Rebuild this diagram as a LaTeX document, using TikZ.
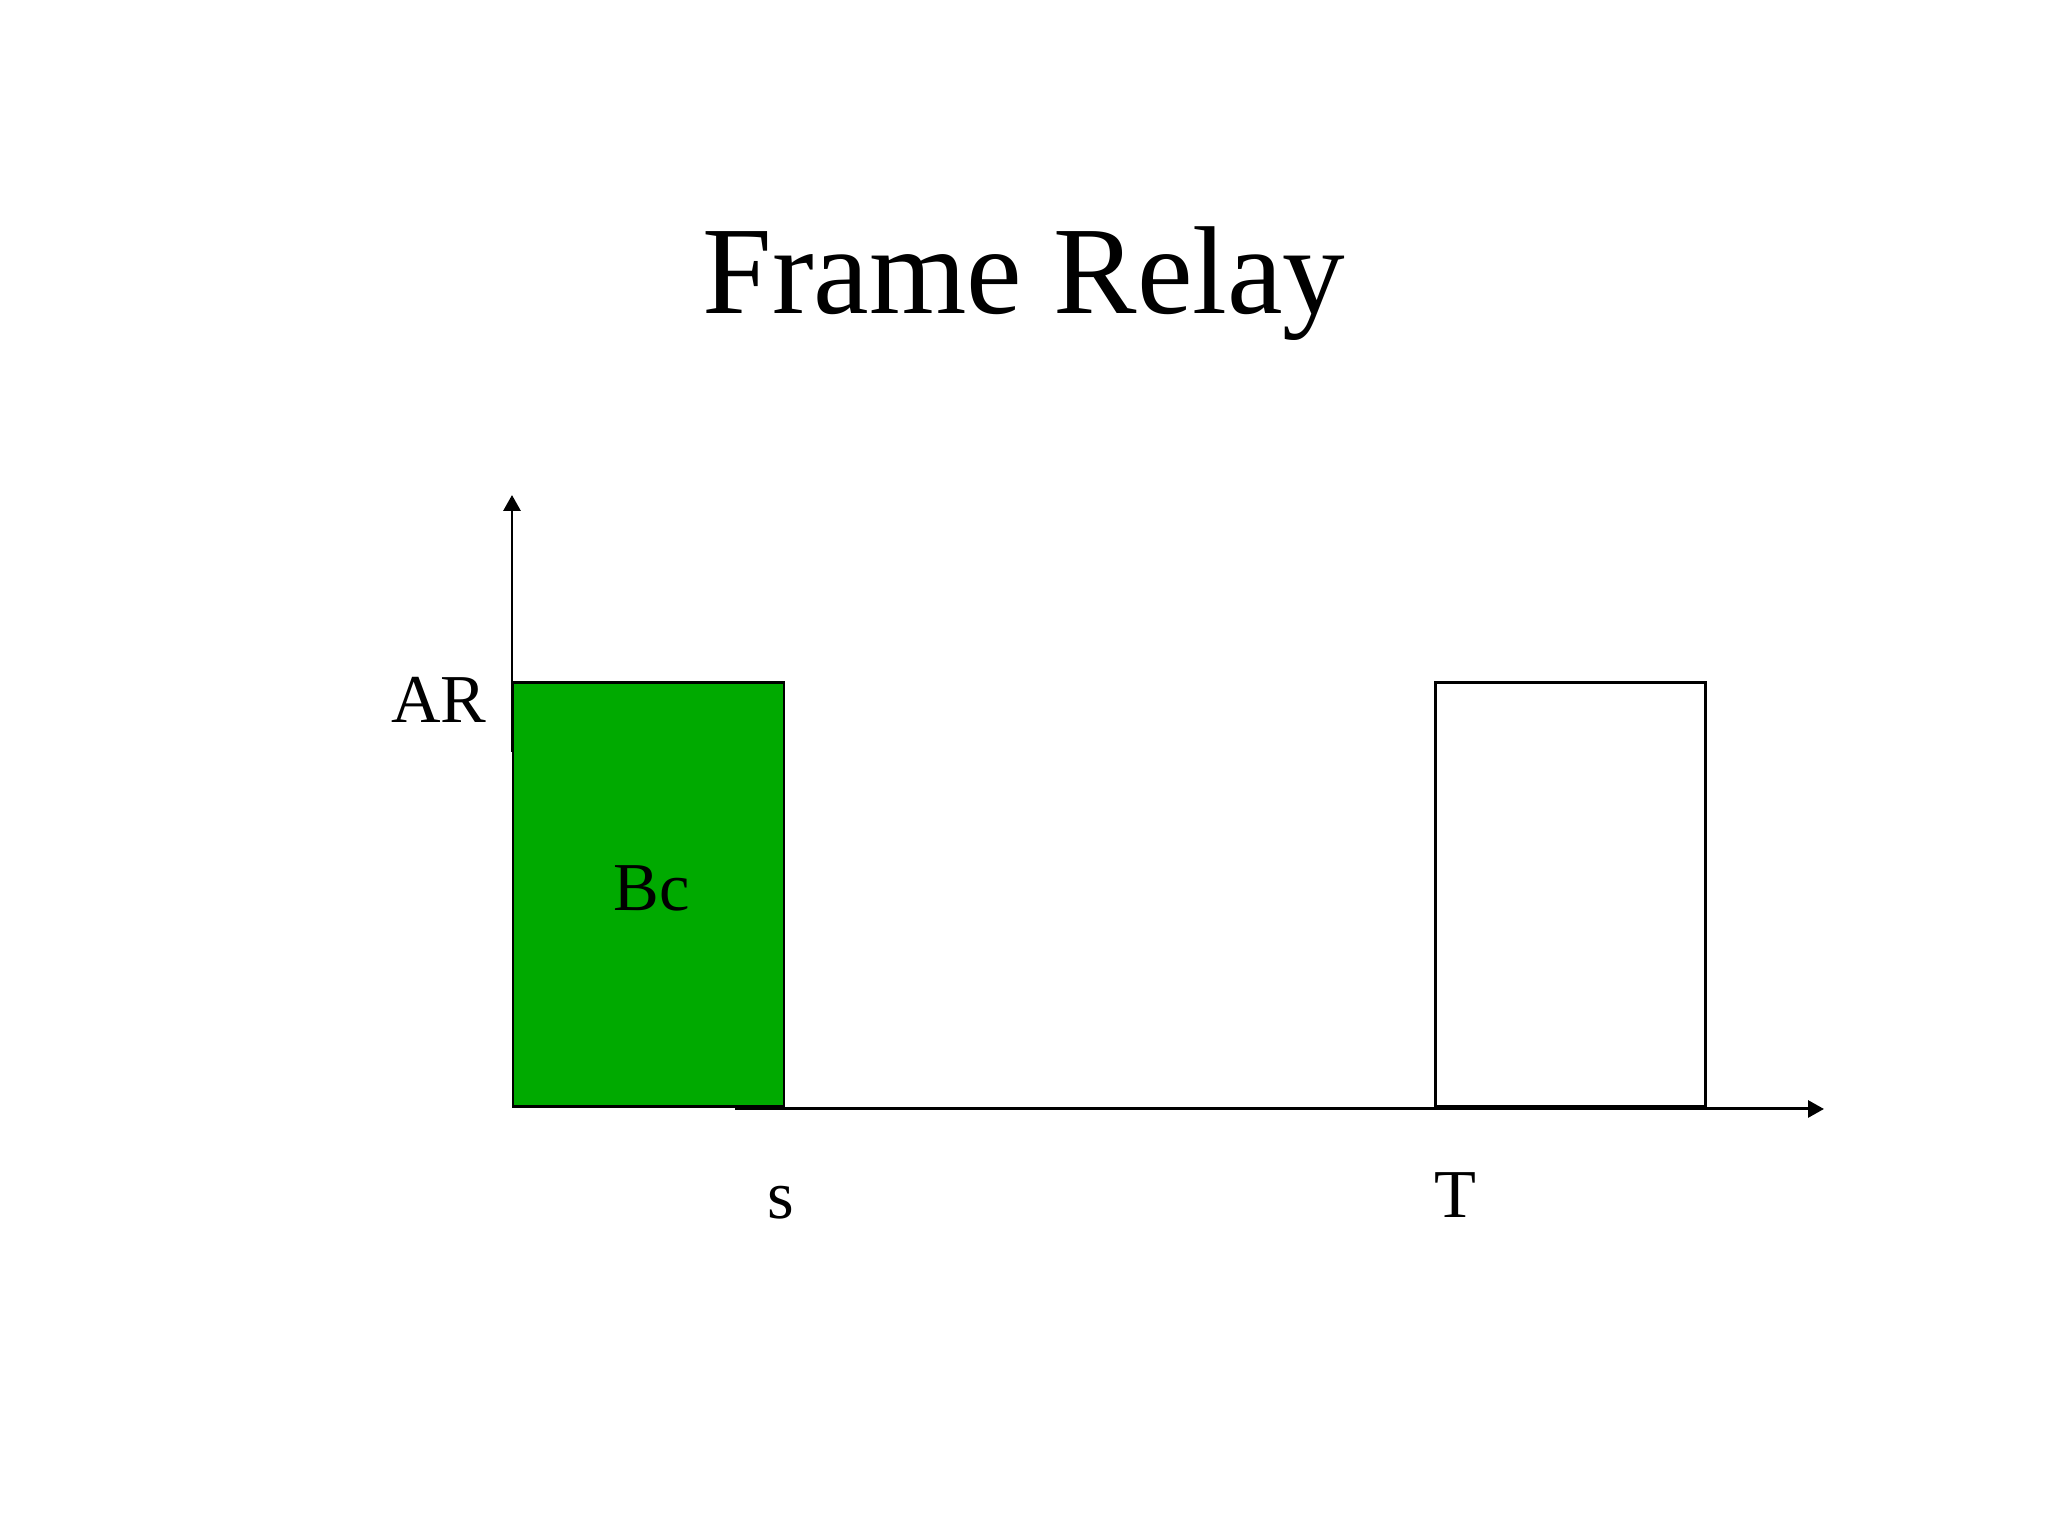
\documentclass[tikz,border=0pt]{standalone}
\usepackage{fontspec}
\setmainfont{Liberation Serif}
\usetikzlibrary{arrows.meta}
\definecolor{bcgreen}{RGB}{0,170,0}
\tikzset{
  axis/.style={line width=0.85pt, -{Triangle[length=0.16cm,width=0.17cm]}},
  bar/.style={draw=black, line width=0.85pt},
  lbl/.style={font=\fontsize{19.5pt}{22pt}\selectfont, inner sep=0pt},
}
\begin{document}
\begin{tikzpicture}
\useasboundingbox (0,0) rectangle (20.48,15.36);
% title
\node[inner sep=0pt, anchor=base] (title) at (10.24,12.22)
  {\fontsize{35.6pt}{40pt}\selectfont Frame Relay};
% bars
\draw[bar, fill=bcgreen] (5.13,4.29) rectangle (7.84,8.53);
\draw[bar, fill=white] (14.35,4.29) rectangle (17.05,8.53);
\coordinate (yb) at (5.12,7.84);
\coordinate (yt) at (5.12,10.41);
\coordinate (xl) at (7.35,4.27);
\coordinate (xr) at (18.24,4.27);
\draw[axis] (yb) -- (yt);
\draw[axis] (xl) -- (xr);
% labels
\node[lbl, anchor=base east] (ar) at (4.87,8.13) {AR};
\node[lbl, anchor=base] (bc) at (6.52,6.25) {Bc};
\node[lbl, anchor=base] (s) at (7.81,3.17) {s};
\node[lbl, anchor=base] (t) at (14.55,3.18) {T};
\end{tikzpicture}
\end{document}
